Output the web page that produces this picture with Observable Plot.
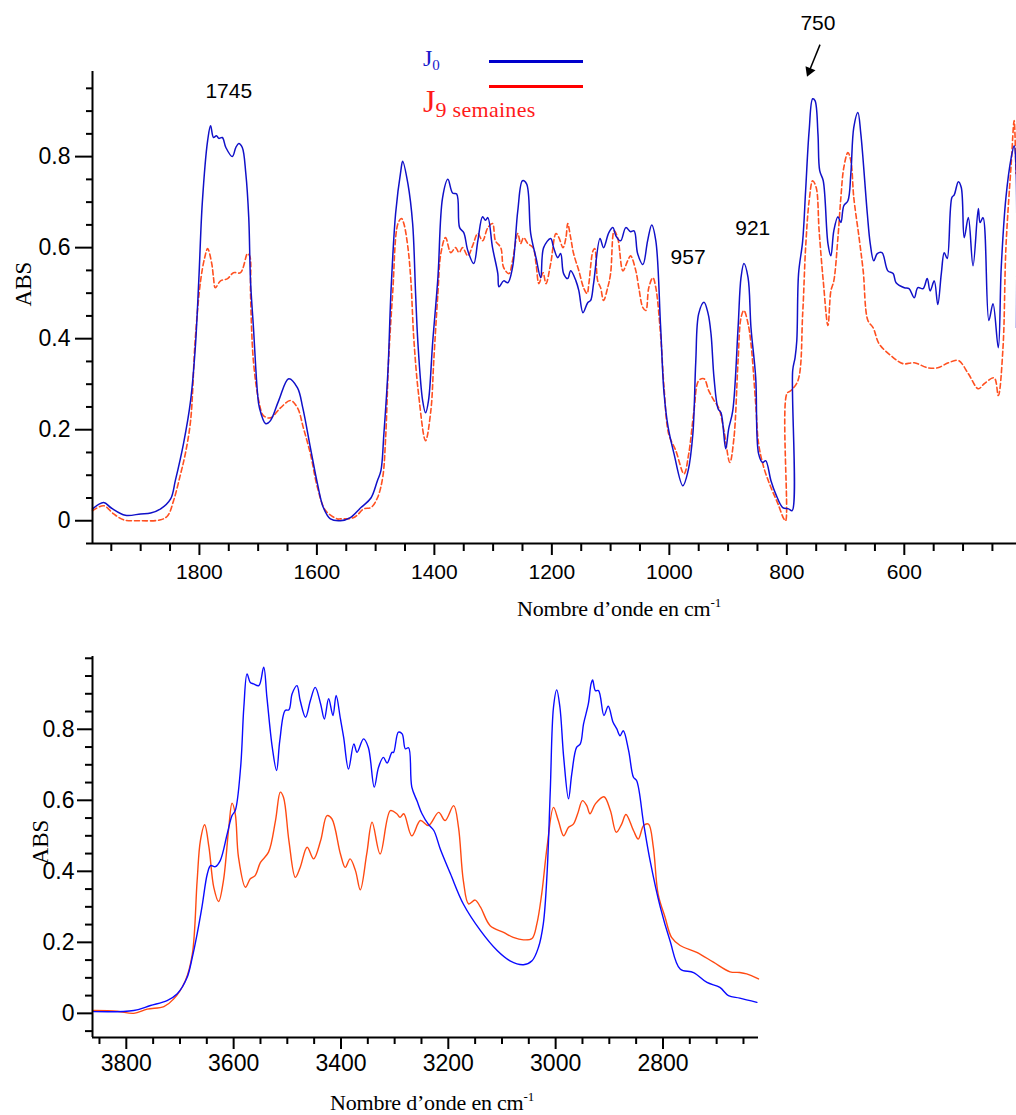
<!DOCTYPE html>
<html><head><meta charset="utf-8">
<script src="https://cdn.jsdelivr.net/npm/d3@7"></script>
<script src="https://cdn.jsdelivr.net/npm/@observablehq/plot@0.6"></script>
<style>
body{margin:0;background:#fff;}
#wrap{position:relative;width:1016px;height:1115px;overflow:hidden;background:#fff;}
.abs{position:absolute;font-family:"Liberation Serif","Times New Roman",serif;font-size:23px;line-height:1;transform:translate(-50%,-50%) rotate(-90deg);white-space:nowrap;color:#000;}
.xt{position:absolute;font-family:"Liberation Serif","Times New Roman",serif;font-size:22px;line-height:1;white-space:nowrap;color:#000;letter-spacing:-0.2px;}
.xt sup{font-size:13px;vertical-align:9px;line-height:0;}
.lg{position:absolute;font-family:"Liberation Serif","Times New Roman",serif;line-height:1;white-space:nowrap;}
.lline{position:absolute;height:2.5px;}
</style></head><body>
<div id="wrap">
  <div id="top" style="position:absolute;left:0;top:0"></div>
  <div id="bot" style="position:absolute;left:0;top:620px"></div>
  <div class="abs" style="left:23px;top:284px">ABS</div>
  <div class="abs" style="left:40px;top:842px">ABS</div>
  <div class="xt" style="left:517px;top:598px">Nombre d’onde en cm<sup>-1</sup></div>
  <div class="xt" style="left:330px;top:1092px">Nombre d’onde en cm<sup>-1</sup></div>
  <div class="lg" style="left:423px;top:46px;color:#1a1acc;font-size:24px">J<span style="font-size:15px;position:relative;top:4px">0</span></div>
  <div class="lline" style="left:489px;top:60px;width:94px;background:#0000cc"></div>
  <div class="lline" style="left:489px;top:85px;width:94px;background:#ff0000"></div>
  <div class="lg" style="left:423px;top:85px;color:#ff1a1a;font-size:32px">J<span style="font-size:22px;position:relative;top:5px;letter-spacing:0.3px">9 semaines</span></div>
</div>
<script>
// ---------- DATA ----------
// Top panel: 1982–409 cm-1
const topXDomain = [1982, 409];
const topYDomain = [-0.05, 0.987];
const topXMajor = [1800, 1600, 1400, 1200, 1000, 800, 600];
const topXMinor = [1950,1900,1850,1750,1700,1650,1550,1500,1450,1350,1300,1250,1150,1100,1050,950,900,850,750,700,650,550,500,450];
const topYMajor = [0, 0.2, 0.4, 0.6, 0.8];
const topYMinor = [-0.05,0.05,0.1,0.15,0.25,0.3,0.35,0.45,0.5,0.55,0.65,0.7,0.75,0.85,0.9,0.95];

const topJ0 = [[1982,0.026],[1963,0.040],[1950,0.028],[1926,0.012],[1900,0.015],[1883,0.017],[1866,0.026],[1849,0.048],[1841,0.088],[1827,0.17],[1815,0.264],[1807,0.38],[1801,0.53],[1795,0.70],[1786,0.835],[1781,0.868],[1776,0.842],[1771,0.846],[1767,0.84],[1761,0.842],[1755,0.82],[1744,0.80],[1738,0.82],[1733,0.829],[1727,0.82],[1721,0.763],[1716,0.666],[1713,0.527],[1708,0.424],[1701,0.279],[1698,0.249],[1687,0.213],[1679,0.22],[1665,0.264],[1648,0.312],[1633,0.292],[1624,0.248],[1611,0.16],[1599,0.081],[1589,0.029],[1577,0.004],[1560,0.0],[1543,0.007],[1525,0.029],[1508,0.05],[1497,0.088],[1491,0.11],[1486,0.19],[1479,0.33],[1474,0.50],[1466,0.675],[1457,0.77],[1454,0.79],[1445,0.74],[1437,0.653],[1432,0.50],[1428,0.39],[1420,0.264],[1415,0.237],[1410,0.264],[1403,0.39],[1394,0.534],[1386,0.71],[1377,0.75],[1369,0.72],[1362,0.718],[1357,0.644],[1350,0.633],[1343,0.593],[1333,0.565],[1326,0.615],[1318,0.668],[1313,0.66],[1309,0.666],[1301,0.60],[1292,0.543],[1290,0.514],[1282,0.527],[1275,0.523],[1267,0.556],[1258,0.681],[1250,0.747],[1243,0.74],[1236,0.631],[1227,0.578],[1219,0.534],[1214,0.60],[1202,0.62],[1197,0.60],[1190,0.578],[1185,0.587],[1180,0.543],[1173,0.532],[1168,0.549],[1159,0.527],[1154,0.505],[1147,0.457],[1139,0.479],[1134,0.484],[1129,0.521],[1118,0.62],[1112,0.60],[1103,0.633],[1096,0.644],[1091,0.626],[1083,0.615],[1074,0.644],[1066,0.635],[1060,0.637],[1054,0.587],[1045,0.563],[1037,0.615],[1030,0.65],[1023,0.615],[1015,0.43],[1009,0.28],[1002,0.205],[992,0.147],[977,0.077],[968,0.11],[960,0.19],[955,0.35],[950,0.455],[941,0.48],[934,0.455],[929,0.41],[924,0.315],[917,0.246],[912,0.237],[904,0.158],[899,0.202],[892,0.242],[883,0.424],[878,0.534],[873,0.565],[866,0.534],[861,0.424],[853,0.315],[848,0.147],[841,0.128],[836,0.132],[827,0.088],[819,0.059],[807,0.029],[797,0.026],[791,0.022],[790,0.33],[786,0.358],[783,0.396],[780,0.543],[773,0.615],[768,0.725],[762,0.857],[756,0.927],[752,0.923],[747,0.85],[744,0.769],[738,0.747],[730,0.609],[725,0.582],[720,0.637],[713,0.668],[708,0.655],[703,0.692],[696,0.703],[691,0.763],[686,0.864],[679,0.897],[674,0.85],[663,0.675],[658,0.609],[652,0.571],[646,0.587],[638,0.589],[628,0.549],[619,0.543],[614,0.523],[600,0.512],[592,0.51],[583,0.49],[577,0.512],[568,0.51],[561,0.532],[556,0.505],[549,0.527],[543,0.475],[537,0.543],[532,0.589],[527,0.576],[519,0.71],[515,0.716],[508,0.745],[503,0.732],[498,0.622],[491,0.666],[483,0.56],[474,0.686],[471,0.655],[466,0.666],[456,0.44],[449,0.477],[440,0.38],[435,0.556],[427,0.71],[418,0.798],[413,0.824],[410,0.785],[409,0.424]];

const topJ9 = [[1982,0.022],[1963,0.033],[1946,0.015],[1929,0.002],[1900,0.0],[1866,0.002],[1854,0.011],[1844,0.044],[1832,0.103],[1824,0.147],[1815,0.22],[1807,0.40],[1798,0.527],[1791,0.578],[1786,0.598],[1779,0.565],[1776,0.534],[1773,0.512],[1764,0.527],[1752,0.532],[1742,0.545],[1730,0.545],[1718,0.587],[1714,0.58],[1713,0.5],[1708,0.35],[1699,0.264],[1691,0.231],[1679,0.226],[1662,0.248],[1645,0.264],[1633,0.248],[1623,0.204],[1611,0.147],[1599,0.073],[1585,0.022],[1565,0.004],[1560,0.004],[1537,0.007],[1520,0.026],[1508,0.029],[1497,0.05],[1488,0.095],[1483,0.182],[1478,0.35],[1471,0.5],[1462,0.653],[1456,0.664],[1452,0.653],[1445,0.60],[1440,0.527],[1435,0.40],[1427,0.279],[1415,0.176],[1406,0.242],[1401,0.352],[1394,0.50],[1389,0.587],[1381,0.622],[1372,0.589],[1364,0.60],[1358,0.589],[1352,0.60],[1343,0.582],[1335,0.604],[1326,0.631],[1318,0.615],[1309,0.644],[1301,0.653],[1296,0.615],[1287,0.60],[1282,0.556],[1273,0.543],[1267,0.571],[1258,0.631],[1253,0.609],[1248,0.622],[1241,0.609],[1232,0.60],[1227,0.565],[1222,0.521],[1215,0.545],[1210,0.521],[1202,0.565],[1193,0.631],[1188,0.622],[1181,0.60],[1176,0.622],[1173,0.653],[1168,0.622],[1163,0.587],[1154,0.549],[1146,0.512],[1140,0.499],[1137,0.521],[1130,0.593],[1127,0.598],[1122,0.527],[1117,0.512],[1112,0.484],[1105,0.512],[1100,0.543],[1094,0.637],[1088,0.622],[1079,0.549],[1071,0.571],[1066,0.582],[1057,0.549],[1052,0.512],[1045,0.468],[1040,0.462],[1035,0.512],[1028,0.534],[1023,0.512],[1015,0.41],[1009,0.292],[1001,0.19],[989,0.154],[975,0.103],[967,0.147],[958,0.242],[950,0.308],[941,0.312],[933,0.286],[924,0.264],[916,0.248],[907,0.198],[897,0.128],[890,0.182],[883,0.352],[878,0.446],[873,0.462],[866,0.433],[861,0.389],[853,0.257],[848,0.169],[839,0.116],[827,0.073],[815,0.037],[805,0.004],[802,0.0],[800,0.279],[793,0.286],[781,0.308],[773,0.455],[768,0.60],[762,0.703],[756,0.747],[750,0.732],[745,0.637],[738,0.527],[730,0.429],[725,0.505],[720,0.527],[713,0.622],[708,0.71],[703,0.776],[696,0.809],[691,0.791],[686,0.71],[677,0.622],[670,0.549],[662,0.44],[653,0.424],[643,0.389],[623,0.363],[602,0.345],[583,0.347],[560,0.336],[543,0.336],[525,0.347],[508,0.352],[491,0.323],[474,0.29],[464,0.301],[447,0.314],[440,0.275],[432,0.38],[427,0.60],[418,0.785],[413,0.879],[410,0.763]];

const peakLabels = [
  {label: "1745", wn: 1750, abs: 0.943},
  {label: "957", wn: 968, abs: 0.579},
  {label: "921", wn: 858, abs: 0.643},
  {label: "750", wn: 747, abs: 1.092}
];
const arrowShaft = [{wn1: 743.5, abs1: 1.046, wn2: 761.7, abs2: 0.988}];
const arrowHead = [{wn: 761.7, abs: 0.988}];

// Bottom panel: 3863–2622 cm-1
const botXDomain = [3863, 2622];
const botYDomain = [-0.068, 1.005];
const botXMajor = [3800, 3600, 3400, 3200, 3000, 2800];
const botXMinor = [3850,3750,3700,3650,3550,3500,3450,3350,3300,3250,3150,3100,3050,2950,2900,2850,2750,2700,2650];
const botYMajor = [0, 0.2, 0.4, 0.6, 0.8];
const botYMinor = [-0.05,0.05,0.1,0.15,0.25,0.3,0.35,0.45,0.5,0.55,0.65,0.7,0.75,0.85,0.9,0.95,1.0];

const botJ0 = [[3861,0.005],[3786,0.008],[3755,0.022],[3724,0.036],[3705,0.055],[3687,0.10],[3677,0.158],[3668,0.224],[3659,0.30],[3649,0.393],[3643,0.416],[3634,0.413],[3625,0.43],[3612,0.505],[3603,0.557],[3597,0.571],[3587,0.693],[3581,0.862],[3575,0.956],[3569,0.932],[3563,0.928],[3553,0.923],[3544,0.975],[3538,0.89],[3528,0.749],[3520,0.684],[3514,0.768],[3504,0.853],[3497,0.855],[3491,0.90],[3482,0.923],[3476,0.881],[3466,0.834],[3457,0.881],[3448,0.918],[3438,0.872],[3431,0.829],[3423,0.886],[3415,0.839],[3409,0.895],[3401,0.829],[3395,0.777],[3386,0.688],[3376,0.759],[3370,0.735],[3358,0.773],[3349,0.749],[3338,0.637],[3330,0.693],[3321,0.721],[3314,0.705],[3305,0.735],[3302,0.735],[3293,0.792],[3286,0.787],[3280,0.745],[3274,0.748],[3268,0.637],[3258,0.597],[3249,0.562],[3237,0.532],[3227,0.515],[3215,0.463],[3196,0.393],[3172,0.308],[3140,0.233],[3109,0.177],[3085,0.148],[3060,0.137],[3044,0.148],[3032,0.186],[3023,0.252],[3016,0.393],[3010,0.627],[3004,0.862],[2998,0.911],[2992,0.862],[2985,0.721],[2976,0.604],[2970,0.674],[2961,0.749],[2954,0.759],[2948,0.815],[2939,0.872],[2934,0.928],[2931,0.939],[2926,0.909],[2920,0.909],[2910,0.839],[2902,0.865],[2893,0.82],[2886,0.801],[2880,0.782],[2874,0.796],[2864,0.74],[2855,0.665],[2849,0.655],[2836,0.534],[2824,0.43],[2805,0.299],[2787,0.205],[2768,0.125],[2743,0.115],[2718,0.087],[2694,0.073],[2678,0.05],[2657,0.043],[2625,0.031]];

const botJ9 = [[3861,0.008],[3817,0.006],[3786,0.0],[3761,0.012],[3730,0.019],[3712,0.04],[3690,0.092],[3677,0.167],[3668,0.374],[3662,0.486],[3654,0.531],[3646,0.468],[3637,0.355],[3628,0.315],[3619,0.374],[3609,0.524],[3603,0.592],[3597,0.562],[3591,0.44],[3578,0.355],[3569,0.379],[3560,0.388],[3550,0.425],[3535,0.454],[3522,0.543],[3513,0.623],[3507,0.608],[3497,0.486],[3485,0.383],[3476,0.411],[3463,0.468],[3451,0.435],[3438,0.486],[3426,0.557],[3417,0.548],[3401,0.449],[3392,0.411],[3383,0.435],[3373,0.402],[3364,0.348],[3352,0.449],[3342,0.538],[3327,0.449],[3308,0.571],[3296,0.562],[3290,0.552],[3283,0.562],[3268,0.50],[3252,0.543],[3237,0.529],[3218,0.566],[3206,0.543],[3190,0.585],[3181,0.524],[3172,0.374],[3162,0.308],[3150,0.319],[3140,0.299],[3122,0.247],[3097,0.228],[3079,0.214],[3060,0.207],[3044,0.211],[3035,0.252],[3026,0.336],[3016,0.468],[3004,0.58],[2995,0.543],[2985,0.50],[2976,0.524],[2967,0.533],[2959,0.562],[2950,0.599],[2942,0.585],[2936,0.562],[2926,0.59],[2910,0.61],[2898,0.571],[2887,0.51],[2877,0.533],[2869,0.56],[2855,0.515],[2846,0.491],[2836,0.529],[2827,0.533],[2818,0.468],[2809,0.336],[2796,0.27],[2784,0.214],[2768,0.191],[2737,0.172],[2706,0.144],[2675,0.117],[2657,0.115],[2644,0.111],[2622,0.097]];

// ---------- DRAW ----------
const sans = '"Liberation Sans", Arial, sans-serif';
const fmtY = d => d === 0 ? "0" : d.toFixed(1);
const X = d => d[0], Y = d => d[1];

const topPlot = Plot.plot({
  width: 1016, height: 620,
  marginTop: 71, marginBottom: 77, marginLeft: 92, marginRight: 0,
  x: {domain: topXDomain},
  y: {domain: topYDomain},
  style: {background: "transparent", overflow: "visible", fontFamily: sans, color: "#000"},
  marks: [
    Plot.line(topJ9, {x: X, y: Y, stroke: "#ff5020", strokeWidth: 1.6, strokeDasharray: "5,3", curve: "catmull-rom"}),
    Plot.line(topJ0, {x: X, y: Y, stroke: "#1010c8", strokeWidth: 1.5, curve: "catmull-rom"}),
    Plot.ruleX([topXDomain[0]], {stroke: "#000", strokeWidth: 2}),
    Plot.ruleY([topYDomain[0]], {stroke: "#000", strokeWidth: 2}),
    Plot.axisX({ticks: topXMajor, tickSize: 12, tickPadding: 9, tickFormat: d => String(d), fontSize: 21, label: null, strokeWidth: 2}),
    Plot.axisX({ticks: topXMinor, tickSize: 8, tickFormat: () => "", label: null, strokeWidth: 2}),
    Plot.axisY({ticks: topYMajor, tickSize: 17, tickPadding: 5, tickFormat: fmtY, fontSize: 23, label: null, strokeWidth: 2}),
    Plot.axisY({ticks: topYMinor, tickSize: 6, tickFormat: () => "", label: null, strokeWidth: 2}),
    Plot.text(peakLabels, {x: "wn", y: "abs", text: "label", fontSize: 21, fill: "#000"}),
    Plot.link(arrowShaft, {x1: "wn1", y1: "abs1", x2: "wn2", y2: "abs2", stroke: "#000", strokeWidth: 1.5}),
    Plot.dot(arrowHead, {x: "wn", y: "abs", symbol: "triangle", r: 4, fill: "#000", stroke: null, rotate: 202})
  ]
});
document.getElementById("top").appendChild(topPlot);

const botPlot = Plot.plot({
  width: 1016, height: 495,
  marginTop: 36, marginBottom: 78, marginLeft: 92, marginRight: 258,
  x: {domain: botXDomain},
  y: {domain: botYDomain},
  style: {background: "transparent", overflow: "visible", fontFamily: sans, color: "#000"},
  marks: [
    Plot.line(botJ9, {x: X, y: Y, stroke: "#ff4a12", strokeWidth: 1.4, curve: "catmull-rom"}),
    Plot.line(botJ0, {x: X, y: Y, stroke: "#0a0aff", strokeWidth: 1.4, curve: "catmull-rom"}),
    Plot.ruleX([botXDomain[0]], {stroke: "#000", strokeWidth: 2}),
    Plot.ruleY([botYDomain[0]], {stroke: "#000", strokeWidth: 2}),
    Plot.axisX({ticks: botXMajor, tickSize: 12, tickPadding: 5, tickFormat: d => String(d), fontSize: 23, label: null, strokeWidth: 2}),
    Plot.axisX({ticks: botXMinor, tickSize: 7, tickFormat: () => "", label: null, strokeWidth: 2}),
    Plot.axisY({ticks: botYMajor, tickSize: 15, tickPadding: 3, tickFormat: fmtY, fontSize: 23, label: null, strokeWidth: 2}),
    Plot.axisY({ticks: botYMinor, tickSize: 7, tickFormat: () => "", label: null, strokeWidth: 2})
  ]
});
document.getElementById("bot").appendChild(botPlot);
</script>
</body></html>
